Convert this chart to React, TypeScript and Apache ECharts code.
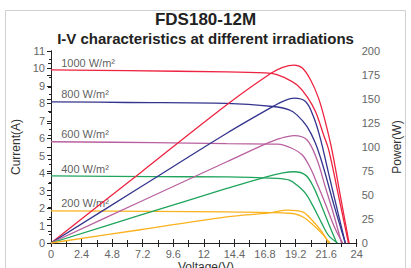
import React, { useEffect, useRef } from "react";
import * as echarts from "echarts";

const titleText = "FDS180-12M";
const subtitleText = "I-V characteristics at different irradiations";
const xAxisTitle = "Voltage(V)";
const irradiationLabels = ["1000 W/m²", "800 W/m²", "600 W/m²", "400 W/m²", "200 W/m²"];
const seriesColors = ["#ee2340", "#34348f", "#b8609f", "#1fa45c", "#fbb21e"];

// I-V curves [voltage, current]
const iv1000 = [[0, 9.92], [6, 9.87], [13.8, 9.8], [17.3, 9.72], [18.4, 9.45], [19.3, 9.06], [20.1, 8.39], [20.76, 7.53], [21.4, 6.19], [21.8, 5.33], [22.6, 2.6], [23.35, 0]];
const iv800 = [[0, 8.09], [6, 8.05], [13.8, 8.0], [17.4, 7.82], [18.7, 7.63], [19.3, 7.34], [20.1, 6.67], [20.76, 5.71], [21.4, 4.3], [22.2, 2.2], [23.1, 0]];
const iv600 = [[0, 5.8], [8, 5.75], [13.8, 5.69], [17.8, 5.67], [18.9, 5.43], [19.73, 5.04], [20.37, 4.28], [20.89, 3.4], [21.53, 2.26], [22.3, 0.83], [22.9, 0]];
const iv400 = [[0, 3.85], [8, 3.8], [13.8, 3.79], [17.7, 3.7], [18.7, 3.6], [19.3, 3.32], [19.98, 2.84], [20.6, 2.07], [21.27, 1.11], [21.78, 0.44], [22.5, 0]];
const iv200 = [[0, 1.84], [8, 1.81], [13.8, 1.78], [18.95, 1.69], [19.85, 1.46], [20.6, 1.02], [21.27, 0.54], [21.9, 0]];

// P-V curves [voltage, power]
const pv1000 = [[0, 0], [7, 73], [13.8, 144], [17.3, 177], [18.19, 182.9], [19.08, 185.3], [19.73, 182.2], [20.37, 170], [21.0, 150.9], [21.53, 126.4], [22.05, 96.9], [22.7, 50], [23.4, 0]];
const pv800 = [[0, 0], [7, 58], [13.8, 114.3], [17.4, 142], [18.3, 148], [19.08, 150.9], [19.98, 147.3], [20.6, 131.7], [21.14, 109], [21.8, 72], [22.5, 33], [23.1, 0]];
const pv600 = [[0, 0], [7, 43], [13.8, 84.6], [16.77, 102.8], [18, 109], [19.08, 111.8], [20.1, 107.3], [20.89, 86.4], [21.53, 58.5], [22.17, 30.7], [22.8, 0]];
const pv400 = [[0, 0], [7, 29], [13.8, 56.8], [16.9, 69], [18.2, 73], [19.08, 74.2], [19.98, 70.7], [20.6, 58.5], [21.27, 37.6], [21.9, 16.7], [22.43, 0]];
const pv200 = [[0, 0], [7, 13.8], [13.8, 27.2], [17.15, 31.3], [18.57, 34.2], [19.73, 32.4], [20.5, 23.7], [21.27, 11.5], [21.78, 0]];

const ivCurves = [iv1000, iv800, iv600, iv400, iv200];
const pvCurves = [pv1000, pv800, pv600, pv400, pv200];
const labelCurrents = [10.0, 8.2, 5.95, 3.95, 2.0];

const FONT = "'Liberation Sans', Arial, Helvetica, sans-serif";

export default function App() {
  const ref = useRef<HTMLDivElement>(null);
  useEffect(() => {
    if (!ref.current) return;
    const chart = echarts.init(ref.current, null, { renderer: "svg" });
    const axisLine = { show: true, lineStyle: { color: "#222", width: 1 } };
    const labelStyle = { color: "#666", fontSize: 11, fontFamily: FONT };
    const series: any[] = [];
    ivCurves.forEach((d, i) => {
      series.push({
        type: "line", name: "I " + irradiationLabels[i], data: d, xAxisIndex: 0, yAxisIndex: 0,
        smooth: 0.35, showSymbol: false, lineStyle: { color: seriesColors[i], width: 1.3 }, itemStyle: { color: seriesColors[i] },
      });
    });
    pvCurves.forEach((d, i) => {
      series.push({
        type: "line", name: "P " + irradiationLabels[i], data: d, xAxisIndex: 0, yAxisIndex: 1,
        smooth: 0.35, showSymbol: false, lineStyle: { color: seriesColors[i], width: 1.3 }, itemStyle: { color: seriesColors[i] },
      });
    });
    series.push({
      type: "scatter", xAxisIndex: 0, yAxisIndex: 0, symbolSize: 0,
      data: labelCurrents.map((c, i) => ({ value: [0.8, c], name: irradiationLabels[i] })),
      label: {
        show: true, position: "right", distance: 0, formatter: (p: any) => p.name,
        color: "#333", fontSize: 11, fontFamily: FONT, align: "left", verticalAlign: "bottom",
      },
      silent: true,
    });
    chart.setOption({
      animation: false,
      backgroundColor: "#fff",
      title: [
        { text: titleText, left: "center", top: 10, padding: 0, textStyle: { fontSize: 17, lineHeight: 19, fontWeight: "bold", color: "#222", fontFamily: FONT } },
        { text: subtitleText, left: "center", top: 30, padding: 0, textStyle: { fontSize: 15, lineHeight: 16, fontWeight: "bold", color: "#222", fontFamily: FONT } },
      ],
      graphic: [
        { type: "rect", shape: { x: 5.5, y: 10.5, width: 400, height: 280 }, style: { fill: "none", stroke: "#d0d0d0", lineWidth: 1 }, z: -1, silent: true },
        { type: "text", x: 206, y: 261, style: { text: xAxisTitle, fill: "#333", fontSize: 12, fontFamily: FONT, align: "center", verticalAlign: "top" }, silent: true },
      ],
      grid: { left: 51, right: 49, top: 51, bottom: 25, containLabel: false },
      xAxis: [
        {
          type: "value", position: "bottom", min: 0, max: 24, interval: 2.4,
          axisLine, splitLine: { show: false },
          axisTick: { show: true, inside: true, length: 4, lineStyle: { color: "#222" } },
          minorTick: { show: true, splitNumber: 2, length: 3, lineStyle: { color: "#222" } },
          axisLabel: { ...labelStyle, margin: 5, formatter: (v: number) => String(Math.round(v * 10) / 10) },
        },
        {
          type: "value", position: "top", min: 0, max: 24, interval: 1.2,
          axisLine, splitLine: { show: false },
          axisTick: { show: true, inside: true, length: 4, lineStyle: { color: "#222" } },
          axisLabel: { show: false },
        },
      ],
      yAxis: [
        {
          type: "value", position: "left", min: 0, max: 11, interval: 1,
          name: "Current(A)", nameLocation: "middle", nameGap: 27, nameRotate: 90,
          nameTextStyle: { color: "#333", fontSize: 12, fontFamily: FONT },
          axisLine, splitLine: { show: false },
          axisTick: { show: true, inside: false, length: 4, lineStyle: { color: "#222" } },
          minorTick: { show: true, splitNumber: 2, length: 2, lineStyle: { color: "#222" } },
          axisLabel: { ...labelStyle, margin: 6 },
        },
        {
          type: "value", position: "right", min: 0, max: 200, interval: 25,
          name: "Power(W)", nameLocation: "middle", nameGap: 32, nameRotate: 90,
          nameTextStyle: { color: "#333", fontSize: 12, fontFamily: FONT },
          axisLine, splitLine: { show: false },
          axisTick: { show: true, inside: true, length: 4, lineStyle: { color: "#222" } },
          minorTick: { show: true, splitNumber: 2, length: 3, lineStyle: { color: "#222" } },
          axisLabel: { ...labelStyle, margin: 5 },
        },
      ],
      series,
    });
    return () => chart.dispose();
  }, []);
  return <div ref={ref} style={{ width: 411, height: 268, position: "absolute", left: 0, top: 0 }} />;
}
